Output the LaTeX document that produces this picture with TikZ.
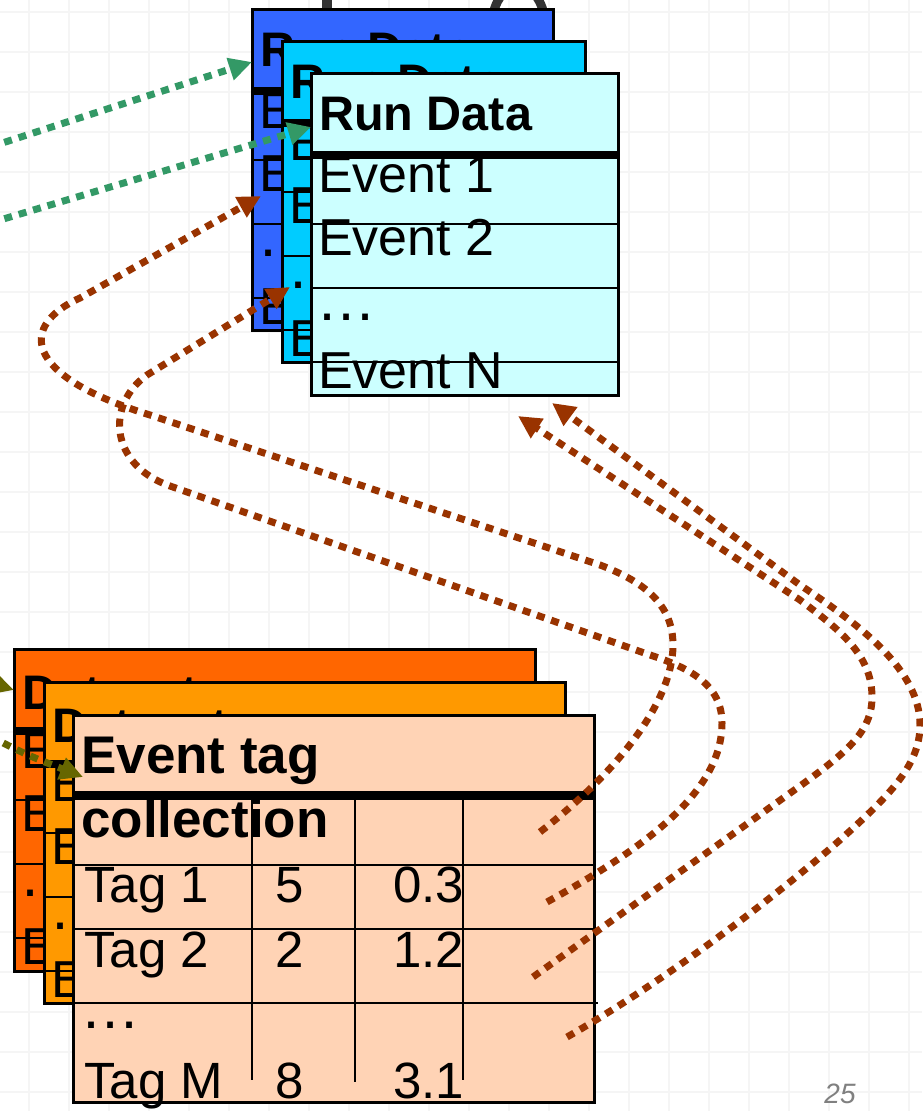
\documentclass[tikz,border=0pt]{standalone}
\usepackage{fontspec}
\setmainfont{Liberation Sans}
\usetikzlibrary{arrows.meta}

\definecolor{rdblue}{HTML}{3366FF}
\definecolor{rdcyan}{HTML}{00CCFF}
\definecolor{rdpale}{HTML}{CCFFFF}
\definecolor{dsorange}{HTML}{FF6600}
\definecolor{dsamber}{HTML}{FF9900}
\definecolor{tagpeach}{HTML}{FFD3B5}
\definecolor{linkgreen}{HTML}{339966}
\definecolor{linkbrown}{HTML}{993300}
\definecolor{linkolive}{HTML}{666600}
\definecolor{gridgray}{HTML}{F5F5F5}
\definecolor{titlegray}{HTML}{333333}

\tikzset{
  cardbox/.style={draw=black, line width=3pt, anchor=north west, inner sep=0pt, outer sep=0pt},
  headtxt/.style={anchor=base west, inner sep=0pt, font=\fontsize{48.5}{56}\selectfont\bfseries},
  bighead/.style={anchor=base west, inner sep=0pt, font=\fontsize{53}{60}\selectfont\bfseries},
  rowtxt/.style={anchor=base west, inner sep=0pt, font=\fontsize{52}{58}\selectfont},
  tagtxt/.style={anchor=base west, inner sep=0pt, font=\fontsize{51}{58}\selectfont},
  dotstxt/.style={anchor=base west, inner sep=0pt, font=\fontsize{60}{66}\selectfont},
  headrule/.style={line width=8pt},
  rowrule/.style={line width=2.2pt},
  gridline/.style={draw=gridgray, line width=1.6pt},
  link/.style={line width=7pt, dash pattern=on 8pt off 7pt,
    -{Triangle[length=23pt,width=22pt]}},
  pagenum/.style={inner sep=0pt, text=gray, font=\fontsize{28}{30}\selectfont\itshape},
}

% A list card: name, x, y, width, height, fill, title, title baseline
\newcommand{\eventlistcard}[8]{%
  \node[cardbox, fill=#6, minimum width=#4pt, minimum height=#5pt] (#1) at (#2,#3) {};
  \begin{scope}[shift={(#2,#3)}]
    \node[headtxt] (#1-head) at (8,#8) {#7};
    \node[rowtxt] (#1-ev1) at (7,119) {Event 1};
    \node[rowtxt] (#1-ev2) at (7,182) {Event 2};
    \node[dotstxt] (#1-dots) at (5,247.5) {…};
    \node[rowtxt] (#1-evn) at (7,315) {Event N};
    \draw[headrule] (1.5,81.5) -- (#4,81.5);
    \draw[rowrule] (0,151) -- (#4,151);
    \draw[rowrule] (0,215) -- (#4+2,215);
    \draw[rowrule] (0,289) -- (#4+2,289);
  \end{scope}}

\begin{document}
\begin{tikzpicture}[x=1pt,y=-1pt]
  \useasboundingbox (0,0) rectangle (922,1111);
  \fill[white] (0,0) rectangle (922,1111);

  % background grid
  \foreach \gx in {29,69,...,909} \draw[gridline] (\gx,0) -- (\gx,1111);
  \foreach \gy in {12,52,...,1092} \draw[gridline] (0,\gy) -- (922,\gy);

  % remains of the heading behind the cards
  \fill[titlegray] (322,-5) rectangle (332,20);
  \draw[titlegray, line width=9pt] (518.5,28) ellipse [x radius=27pt, y radius=42pt];

  % run data stack
  \eventlistcard{runA}{252}{9}{301}{321}{rdblue}{Run Data}{57}
  \eventlistcard{runB}{282}{41}{303}{321}{rdcyan}{Run Data}{57}
  \eventlistcard{runC}{311}{73}{307}{322}{rdpale}{Run Data}{57}

  % dataset stack
  \eventlistcard{setA}{14}{649}{521}{322}{dsorange}{Dataset}{60}
  \eventlistcard{setB}{44}{682}{521}{321}{dsamber}{Dataset}{60}

  % event tag collection table
  \node[cardbox, fill=tagpeach, minimum width=521pt, minimum height=387pt] (tags) at (73,715) {};
  \begin{scope}[shift={(73,715)}]
    \node[bighead] (tags-h1) at (8,58) {Event tag};
    \node[bighead] (tags-h2) at (8,122) {collection};
    \node[tagtxt] (tag1) at (11,187) {Tag 1};
    \node[tagtxt] (tag1a) at (202,187) {5};
    \node[tagtxt] (tag1b) at (320,187) {0.3};
    \node[tagtxt] (tag2) at (11,252) {Tag 2};
    \node[tagtxt] (tag2a) at (202,252) {2};
    \node[tagtxt] (tag2b) at (320,252) {1.2};
    \node[dotstxt] (tagdots) at (7,313.5) {…};
    \node[tagtxt] (tagm) at (11,383) {Tag M};
    \node[tagtxt] (tagma) at (202,383) {8};
    \node[tagtxt] (tagmb) at (320,383) {3.1};
    \draw[headrule, line width=9pt] (1.5,80) -- (521,80);
    \draw[rowrule] (0,150) -- (521,150);
    \draw[rowrule] (0,214) -- (524,214);
    \draw[rowrule] (0,288) -- (525,288);
    \draw[rowrule] (179,85) -- (179,365);
    \draw[rowrule] (282,85) -- (282,367);
    \draw[rowrule] (390,85) -- (390,365);
  \end{scope}

  % links into the run data cards
  \coordinate (gA0) at (-10,147);
  \coordinate (gA1) at (252,62);
  \draw[link, linkgreen] (gA0) -- (gA1);
  \coordinate (gB0) at (-10,223);
  \coordinate (gB1) at (311,127);
  \draw[link, linkgreen] (gB0) -- (gB1);

  % links from the tag rows back to the events
  \coordinate (bC0) at (540,832);
  \coordinate (bC1) at (261,196);
  \draw[link, linkbrown] (bC0) .. controls (620,770) and (673,700) .. (673,645)
    .. controls (673,605) and (645,582) .. (600,565) -- (150,415)
    .. controls (20,375) and (20,325) .. (80,298) -- (bC1);
  \coordinate (bD0) at (547,902);
  \coordinate (bD1) at (290,287);
  \draw[link, linkbrown] (bD0) .. controls (650,845) and (722,790) .. (722,723)
    .. controls (722,685) and (690,668) .. (650,655) -- (170,486)
    .. controls (110,465) and (105,405) .. (147,375) -- (bD1);
  \coordinate (bB0) at (533,977);
  \coordinate (bB1) at (518,416);
  \draw[link, linkbrown] (bB0) -- (800,786) .. controls (850,750) and (872,730) .. (872,697)
    .. controls (872,655) and (840,630) .. (800,600) -- (bB1);
  \coordinate (bA0) at (567,1037);
  \coordinate (bA1) at (552,403);
  \draw[link, linkbrown] (bA0) .. controls (650,990) and (760,910) .. (840,840)
    .. controls (890,795) and (920,765) .. (920,725)
    .. controls (920,670) and (860,625) .. (800,585) -- (bA1);

  % links into the dataset cards
  \coordinate (oA0) at (-50,670);
  \coordinate (oA1) at (14,690);
  \draw[link, linkolive] (oA0) -- (oA1);
  \coordinate (oB0) at (-10,736);
  \coordinate (oB1) at (83,777);
  \draw[link, linkolive] (oB0) .. controls (25,755) and (45,762) .. (oB1);

  \node[pagenum] (pageno) at (840,1094) {25};
\end{tikzpicture}
\end{document}
